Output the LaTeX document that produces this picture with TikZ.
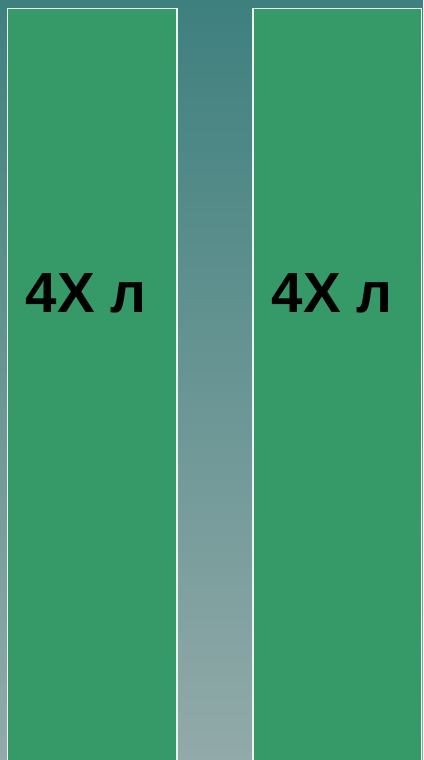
\documentclass[tikz,border=0pt]{standalone}
\usepackage{fontspec}
\newfontfamily\labelfont{Liberation Sans}
\usepackage{xcolor}
\definecolor{bgtop}{RGB}{62,128,126}
\definecolor{bgbottom}{RGB}{146,170,169}
\definecolor{panelgreen}{RGB}{54,153,104}
\definecolor{panelrim}{RGB}{236,240,238}
\usetikzlibrary{positioning}

\begin{document}
\begin{tikzpicture}[x=1pt, y=-1pt,
    panel/.style={draw=panelrim, line width=1.5pt, fill=panelgreen},
    tag/.style={font=\labelfont\bfseries\fontsize{56.5}{56.5}\selectfont, text=black, inner sep=0pt, anchor=base west}]

% Background
\shade[top color=bgtop, bottom color=bgbottom] (0,0) rectangle (423,760);
\useasboundingbox (0,0) rectangle (423,760);

% Left panel
\draw[panel] (7.5,8.5) -- (177,8.5) -- (177,770) -- (7.5,770) -- cycle;
\node[tag] (lefttag) at (25.5,312.5) {4X л};

% Right panel
\draw[panel] (253,8.5) -- (421.5,8.5) -- (421.5,770) -- (253,770) -- cycle;
\node[tag] (righttag) at (271.5,312.5) {4X л};

\end{tikzpicture}
\end{document}
